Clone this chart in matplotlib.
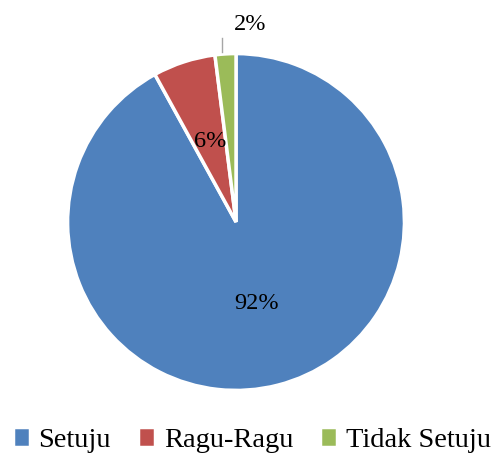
import matplotlib.pyplot as plt
import numpy as np

kategori = ["Setuju", "Ragu-Ragu", "Tidak Setuju"]
persen = [92, 6, 2]
warna = ["#4F81BD", "#C0504D", "#9BBB59"]

plt.rcParams["font.family"] = ["Liberation Serif", "DejaVu Serif"]

fig = plt.figure(figsize=(4.91, 4.54), dpi=100)
ax = fig.add_axes([0.4807 - 0.343, 0.511 - 0.371, 0.686, 0.742])

wedges, teks = ax.pie(persen, colors=warna, startangle=90, counterclock=False,
                      wedgeprops=dict(edgecolor="white", linewidth=2.5))
ax.set_xlim(-1, 1)
ax.set_ylim(-1, 1)
ax.set_aspect("equal")
ax.axis("off")

# label di dalam untuk irisan besar
for w, p in zip(wedges[:2], persen[:2]):
    sudut = np.deg2rad((w.theta1 + w.theta2) / 2)
    ax.text(0.5 * np.cos(sudut), 0.5 * np.sin(sudut), f"{p}%",
            ha="center", va="center", fontsize=17.5)

# label luar dengan garis untuk irisan kecil
w = wedges[2]
sudut = np.deg2rad((w.theta1 + w.theta2) / 2)
xg = np.cos(sudut) - 0.02
ax.plot([xg, xg], [1.01, 1.09], color="#A6A6A6", linewidth=1, clip_on=False)
ax.text(0.084, 1.17, f"{persen[2]}%", ha="center", va="center", fontsize=17.5)

fig.legend(wedges, kategori, loc="lower center", bbox_to_anchor=(0.513, -0.055),
           ncol=3, frameon=False, fontsize=20.5, handlelength=0.6, handleheight=0.7,
           handletextpad=0.3, columnspacing=0.95)

fig.savefig("out.png", dpi=100)
